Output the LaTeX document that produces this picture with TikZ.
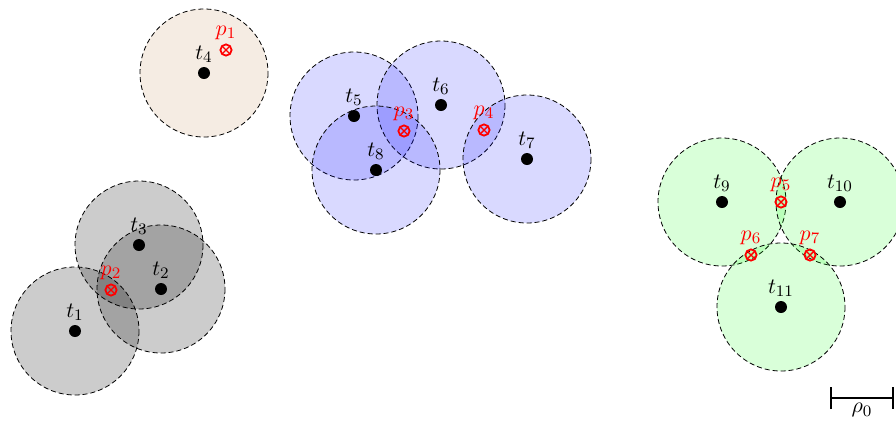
\documentclass[tikz,border=0pt]{standalone}
\usetikzlibrary{arrows.meta,calc}
\begin{document}
\begin{tikzpicture}[x=0.5pt,y=-0.5pt, font=\fontsize{10.8}{13}\selectfont,
  zone/.style={draw=black, thin, dash pattern=on 2.5pt off 1.5pt, fill opacity=0.15},
  target/.style={circle, fill=black, minimum size=6pt, inner sep=0pt},
  tlab/.style={label={[label distance=-1.5pt]above:$t_{#1}$}},
  probe/.style={circle, draw=red, line width=0.9pt, minimum size=5.6pt, inner sep=0pt,
    path picture={\draw[red, line width=0.7pt]
      (path picture bounding box.north west) -- (path picture bounding box.south east)
      (path picture bounding box.north east) -- (path picture bounding box.south west);},
    label={[label distance=-1.5pt, text=red]above:$p_{#1}$}}]
\useasboundingbox (0,0) rectangle (896,425);
\def\rad{64}

% coverage discs
\foreach \cx/\cy in {75/331, 161/289, 139/245}
  \draw[zone, fill=black, fill opacity=0.2] (\cx,\cy) circle[radius=\rad];
\draw[zone, fill=brown] (204,73) circle[radius=\rad];
\foreach \cx/\cy in {354/116, 441/105, 527/159, 376/170}
  \draw[zone, fill=blue] (\cx,\cy) circle[radius=\rad];
\foreach \cx/\cy in {722/202, 840/202, 781/307}
  \draw[zone, fill=green] (\cx,\cy) circle[radius=\rad];

% targets
\node[target, tlab=1] (t1) at (75,331) {};
\node[target, tlab=2] (t2) at (161,289) {};
\node[target, tlab=3] (t3) at (139,245) {};
\node[target, tlab=4] (t4) at (204,73) {};
\node[target, tlab=5] (t5) at (354,116) {};
\node[target, tlab=6] (t6) at (441,105) {};
\node[target, tlab=7] (t7) at (527,159) {};
\node[target, tlab=8] (t8) at (376,170) {};
\node[target, tlab=9] (t9) at (722,202) {};
\node[target, tlab=10] (t10) at (840,202) {};
\node[target, tlab=11] (t11) at (781,307) {};

% probes
\node[probe=1] (p1) at (226,50) {};
\node[probe=2] (p2) at (111,290) {};
\node[probe=3] (p3) at (404,131) {};
\node[probe=4] (p4) at (484,130) {};
\node[probe=5] (p5) at (781,202) {};
\node[probe=6] (p6) at (751,255) {};
\node[probe=7] (p7) at (810,255) {};

% scale bar
\coordinate (sa) at (830,398);
\coordinate (sb) at (894,398);
\draw[line width=0.9pt, {Bar[width=11pt]}-{Bar[width=11pt]}] (sa) -- (sb);
\node[below, inner sep=2.5pt] (rho) at ($(sa)!0.5!(sb)$) {$\rho_0$};
\end{tikzpicture}
\end{document}
